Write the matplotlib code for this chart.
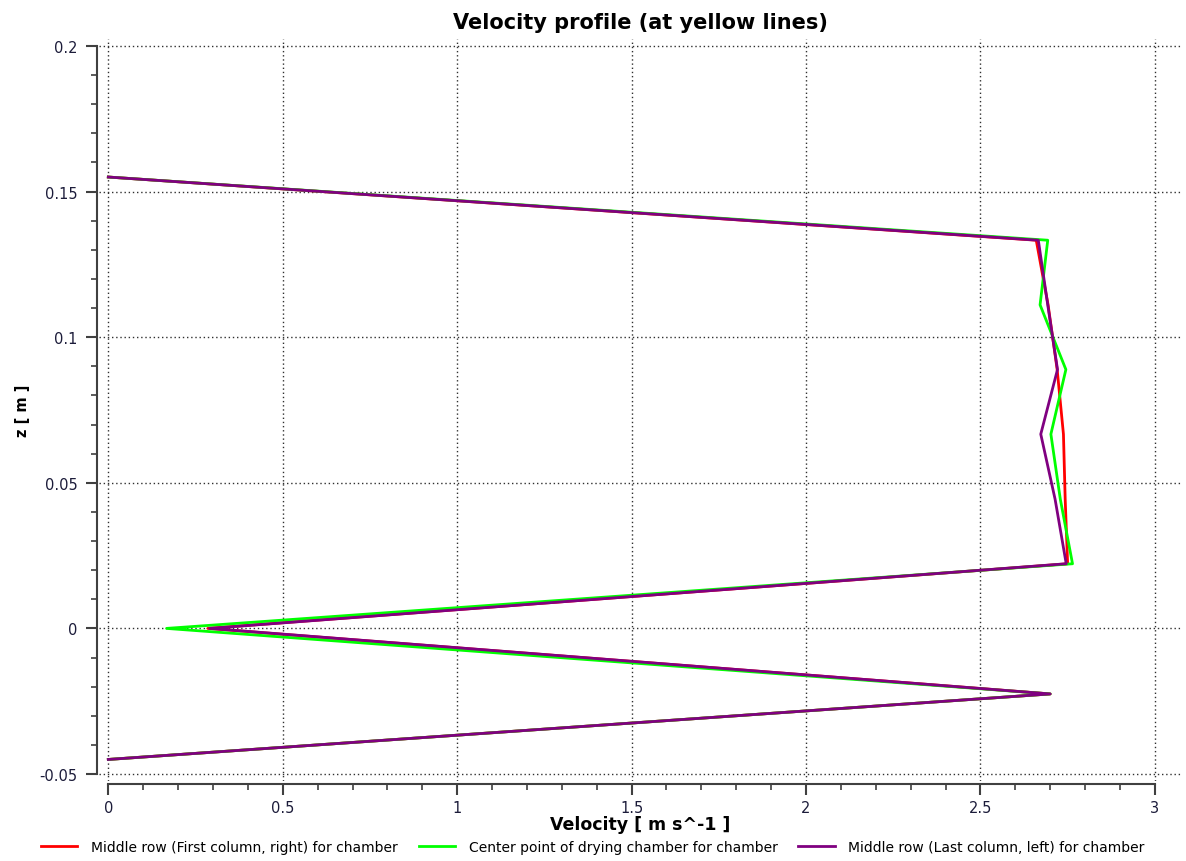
import numpy as np
import matplotlib.pyplot as plt
from matplotlib.ticker import MultipleLocator

# Heights of the sample points along the yellow lines (m)
z = [-0.045, -0.0225, 0.0, 0.0222, 0.0444, 0.0667, 0.0889, 0.1111, 0.1333, 0.155]

# Velocity magnitude at each height (m/s)
v_first_col = [0.0, 2.70, 0.285, 2.75, 2.743, 2.738, 2.72, 2.694, 2.66, 0.0]
v_center = [0.0, 2.70, 0.167, 2.764, 2.729, 2.702, 2.745, 2.671, 2.693, 0.0]
v_last_col = [0.0, 2.70, 0.29, 2.746, 2.714, 2.673, 2.721, 2.693, 2.666, 0.0]

labels = ['Middle row (First column, right) for chamber',
          'Center point of drying chamber for chamber',
          'Middle row (Last column, left) for chamber']
colors = ['#ff0000', '#00ff00', '#800080']

W, H = 1186, 862
fig = plt.figure(figsize=(W/100, H/100), dpi=100)
ax = fig.add_axes([99/W, 1-782/H, (1181-99)/W, (782-40)/H])

for v, lab, c in zip([v_first_col, v_center, v_last_col], labels, colors):
    ax.plot(v, z, color=c, lw=2.0, label=lab)

ax.set_xlim(-0.0267, 3.075)
ax.set_ylim(-0.0524, 0.2024)

ax.xaxis.set_major_locator(MultipleLocator(0.5))
ax.xaxis.set_minor_locator(MultipleLocator(0.1))
ax.yaxis.set_major_locator(MultipleLocator(0.05))
ax.yaxis.set_minor_locator(MultipleLocator(0.01))
ax.set_xticks([0, 0.5, 1, 1.5, 2, 2.5, 3])
ax.set_xticklabels(['0', '0.5', '1', '1.5', '2', '2.5', '3'])
ax.set_yticks([-0.05, 0, 0.05, 0.1, 0.15, 0.2])
ax.set_yticklabels(['-0.05', '0', '0.05', '0.1', '0.15', '0.2'])

ax.grid(True, which='major', color='#303030', lw=1.0, linestyle=(0, (1, 2)))

# detached scale backbones, only over the data range
for s in ['top', 'right']:
    ax.spines[s].set_visible(False)
ax.spines['left'].set_position(('outward', 1.5))
ax.spines['bottom'].set_position(('outward', 2))
ax.spines['left'].set_bounds(-0.05, 0.2)
ax.spines['bottom'].set_bounds(0, 3)
for s in ['left', 'bottom']:
    ax.spines[s].set_color('#404040')
    ax.spines[s].set_linewidth(1.5)

ax.tick_params(which='major', length=8, width=1.5, color='#404040',
               labelsize=10.5, labelcolor='#1c1c3a')
ax.tick_params(which='minor', length=4.5, width=1.2, color='#404040')
ax.tick_params(axis='y', which='major', pad=6)
ax.tick_params(axis='x', which='major', pad=4)

ax.set_title('Velocity profile (at yellow lines)', fontsize=15, fontweight='bold', pad=8)
ax.set_xlabel('Velocity [ m s^-1 ]', fontsize=12.5, fontweight='bold', labelpad=0)
ax.set_ylabel('z [ m ]', fontsize=10.5, fontweight='bold', labelpad=7)

fig.legend(loc='lower center', ncol=3, frameon=False, fontsize=10,
           handlelength=2.6, handletextpad=1.0, columnspacing=1.5,
           bbox_to_anchor=(0.5, -0.006))

fig.savefig('out.png', dpi=100)
